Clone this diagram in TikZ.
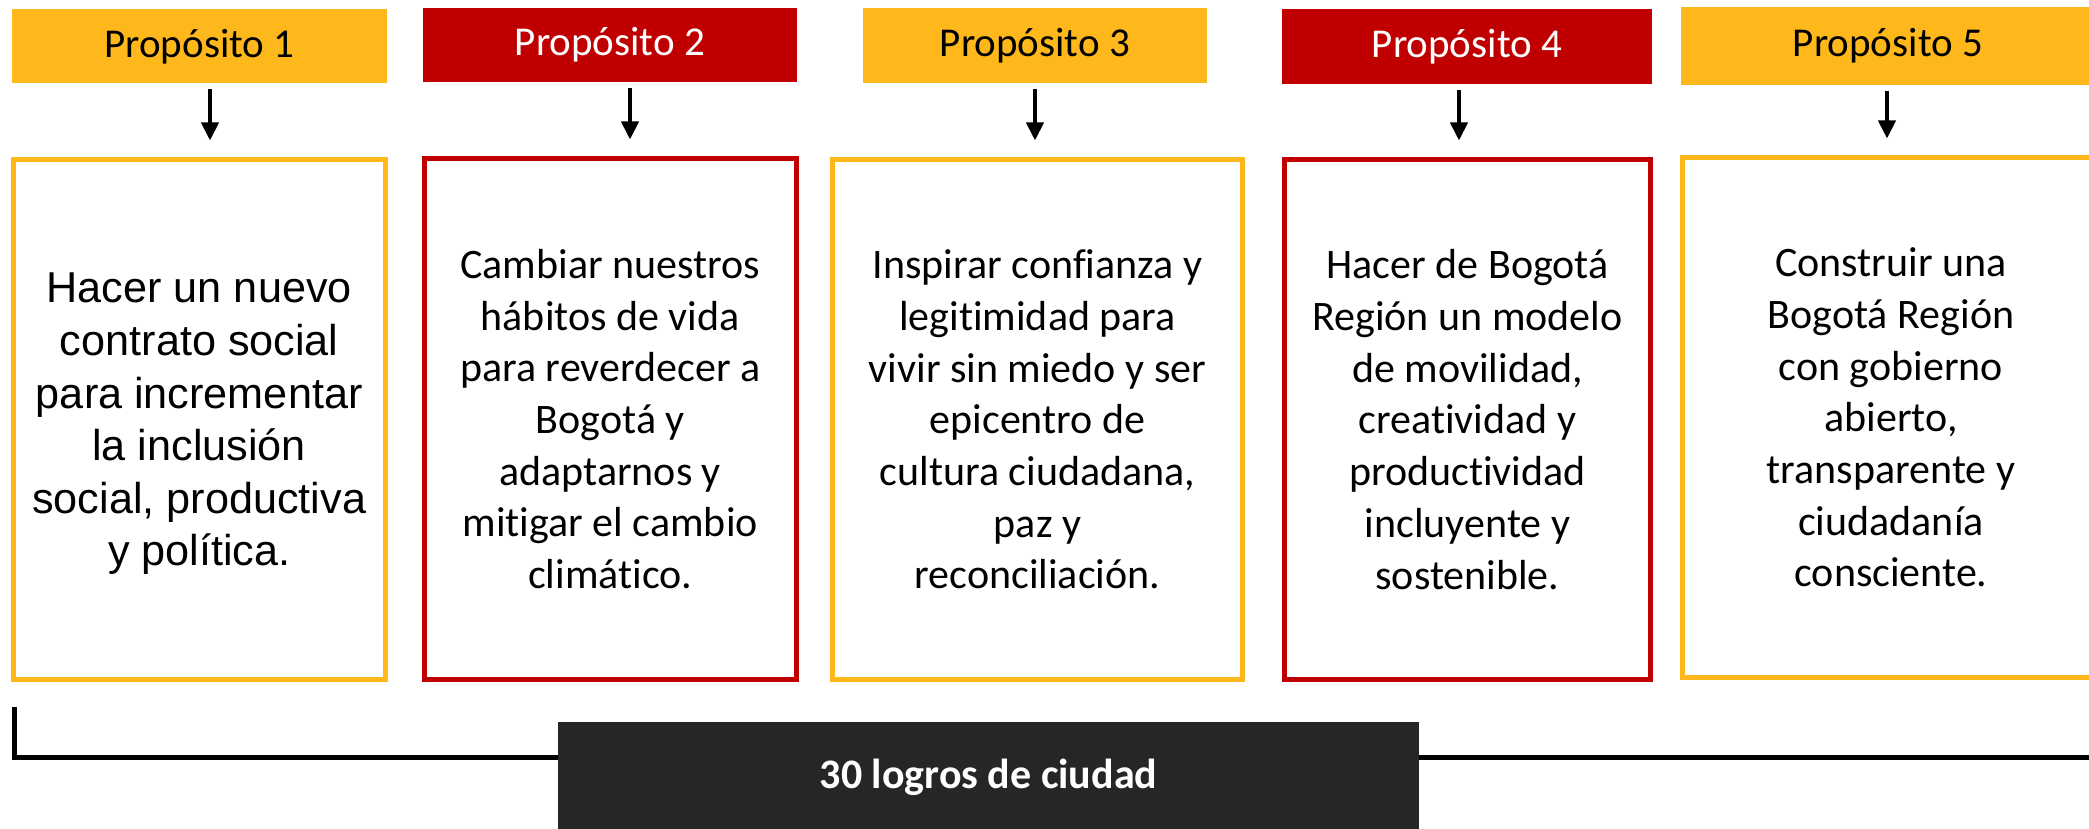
\documentclass[tikz,border=0pt]{standalone}
\usepackage{fontspec}
\setmainfont[Ligatures=NoCommon]{Carlito}
\newfontfamily\arialf[Ligatures=NoCommon]{Liberation Sans}
\usetikzlibrary{arrows.meta,calc}
\definecolor{gold}{HTML}{FFB81C}
\definecolor{crimson}{HTML}{C00000}
\definecolor{charcoal}{HTML}{262626}
\begin{document}
\begin{tikzpicture}[x=0.5pt,y=-0.5pt,
  hdr/.style={rectangle, inner sep=0pt, font=\fontsize{20.5}{25}\selectfont,
    text height=10.7pt, text depth=0pt},
  goldhdr/.style={hdr, fill=gold, text=black},
  redhdr/.style={hdr, fill=crimson, text=white},
  body/.style={rectangle, inner sep=0pt, line width=2.5pt, fill=white,
    align=center, font=\fontsize{21}{25.85}\selectfont},
  goldbody/.style={body, draw=gold},
  redbody/.style={body, draw=crimson},
  arr/.style={line width=2pt, -{Triangle[width=8.5pt,length=9pt]},
    shorten <=2.75pt, shorten >=8.25pt},
  brk/.style={line width=2.5pt},
  logro/.style={rectangle, inner sep=0pt, fill=charcoal, text=white,
    font=\bfseries\fontsize{21}{25}\selectfont, text height=9pt, text depth=0pt}
]
\useasboundingbox (0,0) rectangle (2089,829);

% bracket line (behind the dark box)
\coordinate (bk) at (14,707);
\coordinate (bkend) at (2100,757);
\draw[brk] (bk) |- (bkend);

% headers
\node[goldhdr, minimum width=375*0.5pt, minimum height=74*0.5pt] (h1) at (199.5,46.5) {Propósito 1};
\node[redhdr,  minimum width=374*0.5pt, minimum height=74*0.5pt] (h2) at (610,45) {Propósito 2};
\node[goldhdr, minimum width=344*0.5pt, minimum height=75*0.5pt] (h3) at (1035,45.5) {Propósito 3};
\node[redhdr,  minimum width=370*0.5pt, minimum height=75*0.5pt] (h4) at (1467,46.5) {Propósito 4};
\node[goldhdr, minimum width=414*0.5pt, minimum height=78*0.5pt] (h5) at (1888,46) {Propósito 5};

% bodies
\node[goldbody, minimum width=372.5*0.5pt, minimum height=520*0.5pt] (b1) at (199.25,419.5) {};
\node[font=\arialf\fontsize{21.6}{26.3}\selectfont, align=center, inner sep=0pt] (t1) at ($(b1.center)+(0,4.5)$)
  {Hacer un nuevo\\contrato social\\para incrementar\\la inclusión\\social, productiva\\y política.};
\node[redbody, minimum width=372.5*0.5pt, minimum height=521*0.5pt] (b2) at (610.25,419)
  {Cambiar nuestros\\hábitos de vida\\para reverdecer a\\Bogotá y\\adaptarnos y\\mitigar el cambio\\climático.};
\node[goldbody, minimum width=410*0.5pt, minimum height=520*0.5pt] (b3) at (1037.5,419.5)
  {Inspirar confianza y\\legitimidad para\\vivir sin miedo y ser\\epicentro de\\cultura ciudadana,\\paz y\\reconciliación.};
\node[redbody, minimum width=366*0.5pt, minimum height=520*0.5pt] (b4) at (1467.5,419.5)
  {Hacer de Bogotá\\Región un modelo\\de movilidad,\\creatividad y\\productividad\\incluyente y\\sostenible.};
\node[goldbody, minimum width=417*0.5pt, minimum height=520*0.5pt] (b5) at (1891,417.5)
  {Construir una\\Bogotá Región\\con gobierno\\abierto,\\transparente y\\ciudadanía\\consciente.};

% arrows
\coordinate (a1) at ($(h1.south)+(10.5,0)$);
\coordinate (a2) at ($(h2.south)+(20,0)$);
\coordinate (a3) at ($(h3.south)+(0,0)$);
\coordinate (a4) at ($(h4.south)+(-8,0)$);
\coordinate (a5) at ($(h5.south)+(-1,0)$);
\draw[arr] (a1) -- (a1 |- b1.north);
\draw[arr] (a2) -- (a2 |- b2.north);
\draw[arr] (a3) -- (a3 |- b3.north);
\draw[arr] (a4) -- (a4 |- b4.north);
\draw[arr] (a5) -- (a5 |- b5.north);

% bottom box
\node[logro, minimum width=861*0.5pt, minimum height=114*0.5pt] (lg) at (988.5,779) {30 logros de ciudad};
\end{tikzpicture}
\end{document}
